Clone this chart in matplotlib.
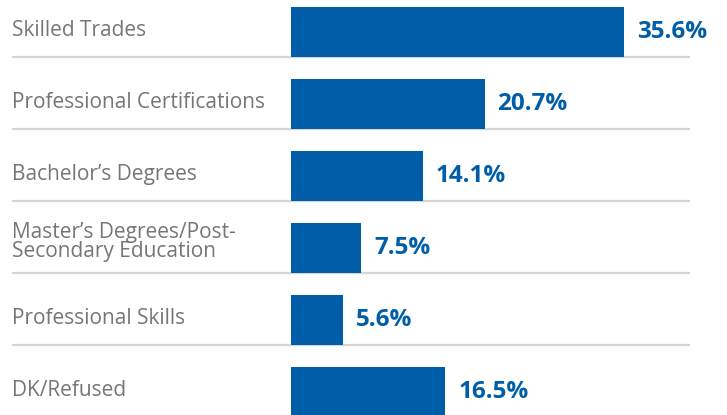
import matplotlib
matplotlib.use("Agg")
import matplotlib.pyplot as plt

categories = ["Skilled Trades", "Professional Certifications", "Bachelor\u2019s Degrees",
              "Master\u2019s Degrees/Post-\nSecondary Education", "Professional Skills", "DK/Refused"]
values = [35.6, 20.7, 14.1, 7.5, 5.6, 16.5]
value_labels = ["35.6%", "20.7%", "14.1%", "7.5%", "5.6%", "16.5%"]

W, H = 727, 415
fig = plt.figure(figsize=(W/100, H/100), dpi=100)
ax = fig.add_axes([0, 0, 1, 1])

ppu = 9.35          # pixels per percent
x0 = 291            # bar start pixel
pitch = 72
c0 = 32
ax.set_xlim(-x0/ppu, (W - x0)/ppu)
ax.set_ylim((H - c0)/pitch, -c0/pitch)
ax.axis("off")

blue = "#005EA8"
gray = "#767676"
bh = 50/pitch
ys = list(range(len(values)))

ax.hlines([y + bh/2 for y in ys], (12 - x0)/ppu, (690 - x0)/ppu, color="#d6d6d6", lw=1.6, zorder=1)
ax.barh(ys, values, height=bh, color=blue, zorder=2)

for y, v, lab, cat in zip(ys, values, value_labels, categories):
    ax.text(v + 13/ppu, y, lab, va="center", ha="left", color=blue,
            fontsize=17.5, fontweight="bold", family="Open Sans")
    dy = -6/pitch if "\n" in cat else -2/pitch
    ax.text((12 - x0)/ppu, y + dy, cat, va="center", ha="left", color=gray,
            fontsize=15, family="Open Sans", linespacing=0.9)

fig.savefig("out.png", dpi=100)
